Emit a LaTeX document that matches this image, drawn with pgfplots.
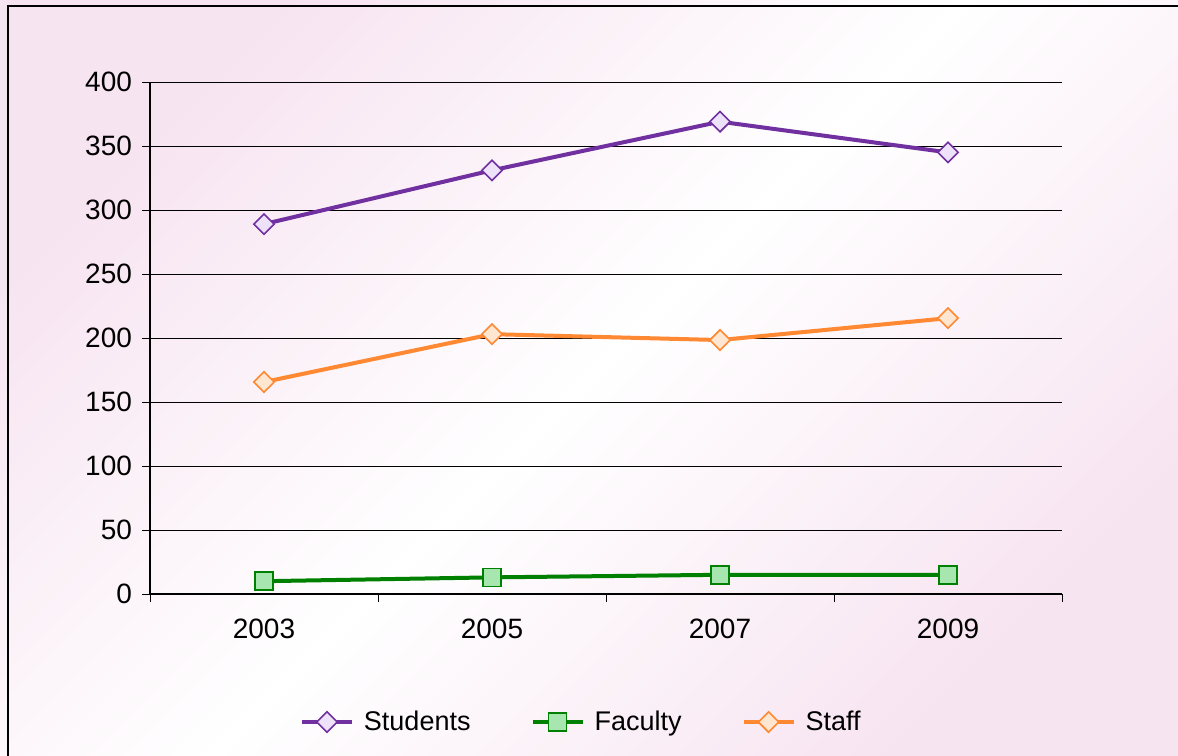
\documentclass[border=0pt]{standalone}
\usepackage{pgfplots}
\pgfplotsset{compat=1.18}
\usepackage{fontspec}
\setmainfont{Liberation Sans}
\definecolor{bgpink}{RGB}{247,228,241}
\definecolor{stuline}{RGB}{112,48,160}
\definecolor{stufill}{RGB}{238,226,250}
\definecolor{facline}{RGB}{0,128,0}
\definecolor{facfill}{RGB}{168,230,176}
\definecolor{staline}{RGB}{255,136,51}
\definecolor{stafill}{RGB}{255,230,208}
\begin{document}
\begin{tikzpicture}
\begin{scope}[x=0.5pt,y=-0.5pt]
\useasboundingbox (0,0) rectangle (1178,755);
\shade[left color=bgpink,right color=bgpink,middle color=white,shading angle=45] (0,0) rectangle (1178,755);
\draw[line width=1pt] (8,760) -- (8,6) -- (1180,6);
\end{scope}
\begin{axis}[
  at={(75pt,-297pt)}, anchor=south west,
  scale only axis, width=456pt, height=256pt,
  xmin=-0.5, xmax=3.5, ymin=0, ymax=400,
  axis x line*=bottom, axis y line*=left,
  axis line style={-, black, line width=0.6pt},
  xtick={-0.5,0.5,1.5,2.5,3.5},
  xticklabels={2003,2005,2007,2009},
  x tick label as interval,
  ytick={0,50,...,400},
  ymajorgrids, grid style={black, line width=0.5pt},
  tick align=outside, major tick length=4pt,
  tick style={black, line width=0.5pt},
  /pgf/number format/assume math mode=true,
  tick label style={font=\fontsize{14}{16}\selectfont},
  yticklabel style={xshift=-1.5pt},
  xticklabel style={yshift=-5pt},
  clip=false,
  legend style={at={(0.474,-0.25)}, anchor=center, draw=none, fill=none,
    font=\fontsize{13.5}{15}\selectfont, legend columns=3,
    /tikz/every odd column/.append style={column sep=3pt},
    /tikz/every even column/.append style={column sep=28pt}},
  legend cell align=left,
  legend image code/.code={\draw[mark repeat=2,mark phase=2] plot coordinates {(0pt,0pt)(12.5pt,0pt)(25pt,0pt)};},
]
\addplot[stuline, line width=2pt, mark=square*, mark size=3.6pt,
  mark options={rotate=45, fill=stufill, draw=stuline, line width=0.8pt, solid}]
  coordinates {(0,289) (1,331) (2,369) (3,345)};
\addlegendentry{Students}
\addplot[facline, line width=2pt, mark=square*, mark size=4.5pt,
  mark options={fill=facfill, draw=facline, line width=0.8pt, solid}]
  coordinates {(0,10) (1,13) (2,15) (3,15)};
\addlegendentry{Faculty}
\addplot[staline, line width=2pt, mark=square*, mark size=3.6pt,
  mark options={rotate=45, fill=stafill, draw=staline, line width=0.8pt, solid}]
  coordinates {(0,165.6) (1,203) (2,198.4) (3,215.5)};
\addlegendentry{Staff}
\end{axis}
\end{tikzpicture}
\end{document}
